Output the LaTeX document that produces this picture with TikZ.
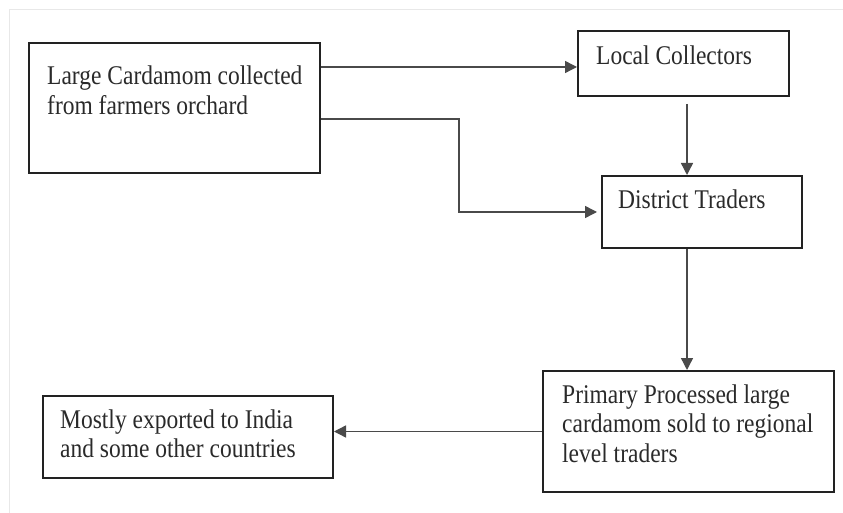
\documentclass[tikz,border=0pt]{standalone}
\usepackage{fontspec}
\setmainfont{Liberation Serif}[FakeStretch=0.87]
\usetikzlibrary{arrows.meta}
\definecolor{boxline}{HTML}{222222}
\definecolor{arrline}{HTML}{4A4A4A}
\definecolor{txt}{HTML}{2A2A2A}
\tikzset{
  box/.style={draw=boxline, line width=2pt, rectangle, inner sep=0pt, fill=white},
  label/.style={anchor=base west, inner sep=0pt, text=txt, font=\fontsize{27}{29.5}\selectfont},
  arr/.style={draw=arrline, line width=1.4pt, -{Triangle[length=12pt,width=12pt]}},
}
\newcommand{\lines}[1]{\begin{tabular}[t]{@{}l@{}}#1\end{tabular}}
\begin{document}
\begin{tikzpicture}[x=1pt,y=-1pt]
\useasboundingbox (0,0) rectangle (843,513);
\fill[white] (0,0) rectangle (843,513);
\draw[gray!18, line width=1pt] (9,513) -- (9,10) -- (843,10);

% boxes
\node[box, minimum width=291pt, minimum height=130pt] (A) at (174.5,108) {};
\node[box, minimum width=211pt, minimum height=65pt] (B) at (683.5,63.5) {};
\node[box, minimum width=200pt, minimum height=72pt] (C) at (702,212) {};
\node[box, minimum width=291pt, minimum height=121pt] (D) at (688.5,431.5) {};
\node[box, minimum width=290pt, minimum height=82pt] (E) at (188,437) {};

% texts
\node[label] (tA) at (47,85) {\lines{Large Cardamom collected\\from farmers orchard}};
\node[label] (tB) at (596,65) {Local Collectors};
\node[label] (tC) at (618,209) {District Traders};
\node[label] (tD) at (562,403) {\lines{Primary Processed large\\cardamom sold to regional\\level traders}};
\node[label] (tE) at (60,428) {\lines{Mostly exported to India\\and some other countries}};

% helper coordinates
\coordinate (b1) at ([yshift=-3.5pt]B.west);
\coordinate (a2) at ([yshift=-11pt]A.east);
\coordinate (bend) at (459,0);
\coordinate (vx) at (687,0);

% connectors
\draw[arr] (A.east |- b1) -- (b1);
\draw[arr, shorten >=4pt] (a2) -| (bend |- C.west) -- (C.west);
\draw[arr, shorten <=7pt] (B.south -| vx) -- (C.north -| vx);
\draw[arr] (C.south -| vx) -- (D.north -| vx);
\draw[arr] (D.west) -- (E.east |- D.west);
\end{tikzpicture}
\end{document}
